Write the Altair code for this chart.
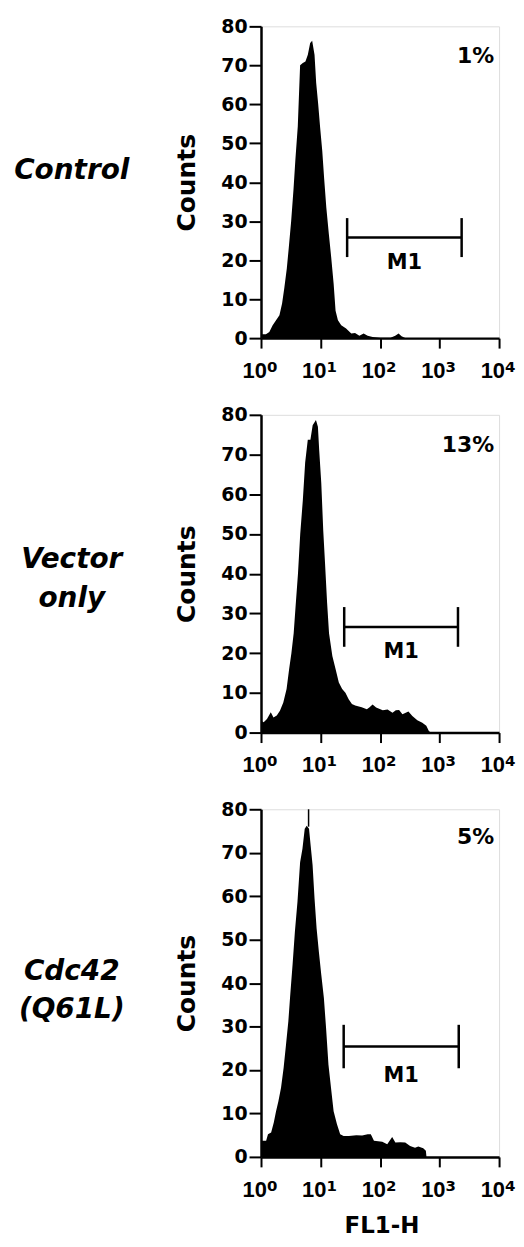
import altair as alt
import pandas as pd

# ---------------- data ----------------
ctrl_fl1 = [1.00, 1.21, 1.38, 1.57, 1.79, 2.04, 2.26, 2.47, 2.71, 2.92,
            3.21, 3.51, 3.79, 4.15, 4.54, 5.04, 5.58, 6.12, 6.70, 7.24,
            7.93, 8.45, 9.14, 9.86, 10.7, 11.5, 12.5, 13.8, 15.1, 16.6,
            17.9, 19.6, 22.3, 26.9, 32.9, 38.0, 45.0, 53.0, 62.0, 75.0,
            100, 150, 180, 205, 230, 270]
ctrl_counts = [1.0, 1.0, 1.6, 3.3, 4.6, 5.9, 8.9, 13.0, 17.8, 23.0,
               30.0, 38.0, 46.0, 54.4, 70.0, 70.6, 71.0, 72.7, 75.7, 76.3,
               72.7, 65.5, 60.0, 54.0, 48.0, 41.0, 33.6, 26.7, 20.8, 14.0,
               7.0, 4.6, 3.3, 2.5, 1.2, 1.3, 0.6, 1.2, 0.6, 0.3,
               0.1, 0.1, 0.6, 1.2, 0.5, 0.0]

vec_fl1 = [1.00, 1.11, 1.26, 1.46, 1.62, 1.84, 2.08, 2.37, 2.69, 2.97,
           3.24, 3.54, 3.82, 4.18, 4.56, 5.05, 5.52, 6.11, 6.76, 7.38,
           8.38, 9.04, 9.51, 10.3, 11.1, 11.9, 12.9, 13.9, 15.8, 17.9,
           20.3, 23.1, 26.2, 29.7, 33.7, 38.2, 49.2, 60.0, 66.0, 75.0,
           86.0, 111, 134, 162, 184, 209, 238, 300, 349, 423,
           513, 599, 661, 708]
vec_counts = [3.0, 2.6, 3.4, 5.1, 3.8, 4.3, 5.5, 7.6, 11.0, 16.0,
              20.0, 25.0, 32.0, 40.0, 50.0, 58.6, 68.0, 73.7, 73.7, 77.4,
              78.7, 77.0, 71.0, 62.8, 51.0, 42.7, 32.7, 25.0, 19.3, 16.0,
              12.6, 11.0, 10.0, 8.4, 7.2, 6.8, 6.4, 5.9, 6.3, 7.1,
              6.3, 5.6, 5.8, 5.0, 5.6, 5.7, 4.6, 5.3, 4.2, 3.1,
              2.5, 1.7, 0.4, 0.0]

cdc_fl1 = [1.00, 1.22, 1.31, 1.48, 1.64, 1.79, 1.96, 2.17, 2.40, 2.63,
           2.88, 3.10, 3.39, 3.71, 4.10, 4.54, 4.97, 5.43, 5.86, 6.41,
           6.82, 7.36, 7.94, 8.59, 9.38, 10.3, 11.4, 12.4, 13.6, 15.0,
           16.6, 18.9, 21.4, 24.4, 30.0, 40.0, 50.0, 62.0, 70.0, 79.0,
           109, 132, 160, 181, 219, 265, 320, 387, 440, 532,
           589, 603]
cdc_counts = [3.7, 3.7, 5.2, 5.6, 7.9, 10.5, 12.8, 15.9, 20.5, 25.8,
              31.2, 37.3, 44.2, 51.8, 58.7, 67.8, 70.9, 75.5, 76.2, 75.5,
              71.7, 67.1, 59.4, 52.6, 47.2, 41.9, 36.5, 29.6, 21.2, 15.9,
              10.5, 7.5, 5.2, 4.8, 4.8, 5.0, 4.9, 5.2, 5.2, 3.7,
              3.5, 2.9, 4.6, 3.3, 3.4, 3.3, 2.5, 2.1, 2.4, 2.0,
              1.4, 0.0]

panel_names = ["Control", "Vector\nonly", "Cdc42\n(Q61L)"]
percents = ["1%", "13%", "5%"]
gate_lo = [28, 25, 24.5]
gate_hi = [2350, 2040, 2100]
gate_level = [25.8, 26.6, 25.4]
gate_label_level = [19.2, 20.2, 18.6]
peak_marker_fl1 = 6.3
x_ticks = [1, 10, 100, 1000, 10000]
x_tick_base = ["10", "10", "10", "10", "10"]
x_tick_exp = ["0", "1", "2", "3", "4"]
y_ticks = [0, 10, 20, 30, 40, 50, 60, 70, 80]
x_title = "FL1-H"

FONT = "DejaVu Sans"
W = 239
heights = [313, 319, 349]
label_y = [145, 146, 163]
pct_y = [30, 30, 28]


def panel(i, fl1, counts, show_title):
    h = heights[i]
    xscale = alt.Scale(type="log", domain=[1, 10000])
    yscale = alt.Scale(domain=[0, 80])
    xaxis = alt.Axis(values=x_ticks, labels=False,
                     tickSize=10, tickWidth=2, tickColor="black",
                     domainWidth=2.5, domainColor="black",
                     grid=False, title=None)
    yaxis = alt.Axis(values=y_ticks, tickSize=12, tickWidth=2, tickColor="black",
                     domainWidth=2.5, domainColor="black",
                     labelFont=FONT, labelFontWeight="bold", labelFontSize=19,
                     labelColor="black", labelPadding=2, grid=False, title="Counts",
                     titleFont=FONT, titleFontWeight="bold", titleFontSize=25,
                     titleColor="black", titlePadding=21)

    def X(f):
        return alt.X(f, type="quantitative", scale=xscale, axis=xaxis)

    def Y(f):
        return alt.Y(f, type="quantitative", scale=yscale, axis=yaxis)

    df = pd.DataFrame({"fl1": fl1, "counts": counts})
    area = alt.Chart(df).mark_area(color="black", interpolate="linear").encode(
        x=X("fl1"), y=Y("counts"))

    gdf = pd.DataFrame({"lo": [gate_lo[i]], "hi": [gate_hi[i]],
                        "lvl": [gate_level[i]],
                        "top": [gate_level[i] + 5], "bot": [gate_level[i] - 5],
                        "mid": [(gate_lo[i] * gate_hi[i]) ** 0.5],
                        "lab": [gate_label_level[i]], "t": ["M1"]})
    hline = alt.Chart(gdf).mark_rule(color="black", strokeWidth=2.5).encode(
        x=X("lo"), x2="hi:Q", y=Y("lvl"))
    vl = alt.Chart(gdf).mark_rule(color="black", strokeWidth=2.5).encode(
        x=X("lo"), y=Y("bot"), y2="top:Q")
    vr = alt.Chart(gdf).mark_rule(color="black", strokeWidth=2.5).encode(
        x=X("hi"), y=Y("bot"), y2="top:Q")
    m1 = alt.Chart(gdf).mark_text(font=FONT, fontWeight="bold", fontSize=21,
                                  baseline="middle", align="center",
                                  color="black").encode(
        x=X("mid"), y=Y("lab"), text="t:N")

    tdf = pd.DataFrame({"v": x_ticks, "b": x_tick_base, "e": x_tick_exp})
    tick_base = alt.Chart(tdf).mark_text(font="Liberation Sans", fontWeight="bold",
                                         fontSize=22, align="right",
                                         baseline="alphabetic", dx=6,
                                         color="black").encode(
        x=X("v"), y=alt.value(h + 40), text="b:N")
    tick_exp = alt.Chart(tdf).mark_text(font=FONT, fontWeight="bold",
                                        fontSize=15, align="left",
                                        baseline="alphabetic", dx=6,
                                        color="black").encode(
        x=X("v"), y=alt.value(h + 34), text="e:N")

    pdf = pd.DataFrame({"t": [percents[i]]})
    pct = alt.Chart(pdf).mark_text(font=FONT, fontWeight="bold", fontSize=22,
                                   align="right", baseline="middle",
                                   color="black").encode(
        x=alt.value(W - 5), y=alt.value(pct_y[i]), text="t:N")

    ldf = pd.DataFrame({"t": [panel_names[i]]})
    lab = alt.Chart(ldf).mark_text(font=FONT, fontWeight="bold", fontStyle="italic",
                                   fontSize=28, align="center", baseline="middle",
                                   lineBreak="\n", lineHeight=39,
                                   color="black").encode(
        x=alt.value(-190), y=alt.value(label_y[i]), text="t:N")

    layers = [area, hline, vl, vr, m1, tick_base, tick_exp, pct, lab]
    if i == 2:
        mdf = pd.DataFrame({"x": [peak_marker_fl1], "y": [76.0], "y2": [80.0]})
        marker = alt.Chart(mdf).mark_rule(color="black", strokeWidth=1.5).encode(
            x=X("x"), y=Y("y"), y2="y2:Q")
        fdf = pd.DataFrame({"t": [x_title]})
        ftitle = alt.Chart(fdf).mark_text(font=FONT, fontWeight="bold", fontSize=23,
                                          align="center", baseline="middle",
                                          color="black").encode(
            x=alt.value(W / 2 + 2), y=alt.value(h + 69), text="t:N")
        layers += [marker, ftitle]
    return alt.layer(*layers).properties(width=W, height=h)


chart = alt.vconcat(
    panel(0, ctrl_fl1, ctrl_counts, False),
    panel(1, vec_fl1, vec_counts, False),
    panel(2, cdc_fl1, cdc_counts, True),
    spacing=22,
).properties(
    padding={"left": 5, "top": 6, "right": 0, "bottom": 2}
).configure_view(
    stroke="black", strokeWidth=2.5
).configure_axis(
    domainColor="black", tickColor="black", labelColor="black", titleColor="black"
).configure(background="white")

chart.save("out.html", embed_options={"renderer": "svg", "actions": False})
